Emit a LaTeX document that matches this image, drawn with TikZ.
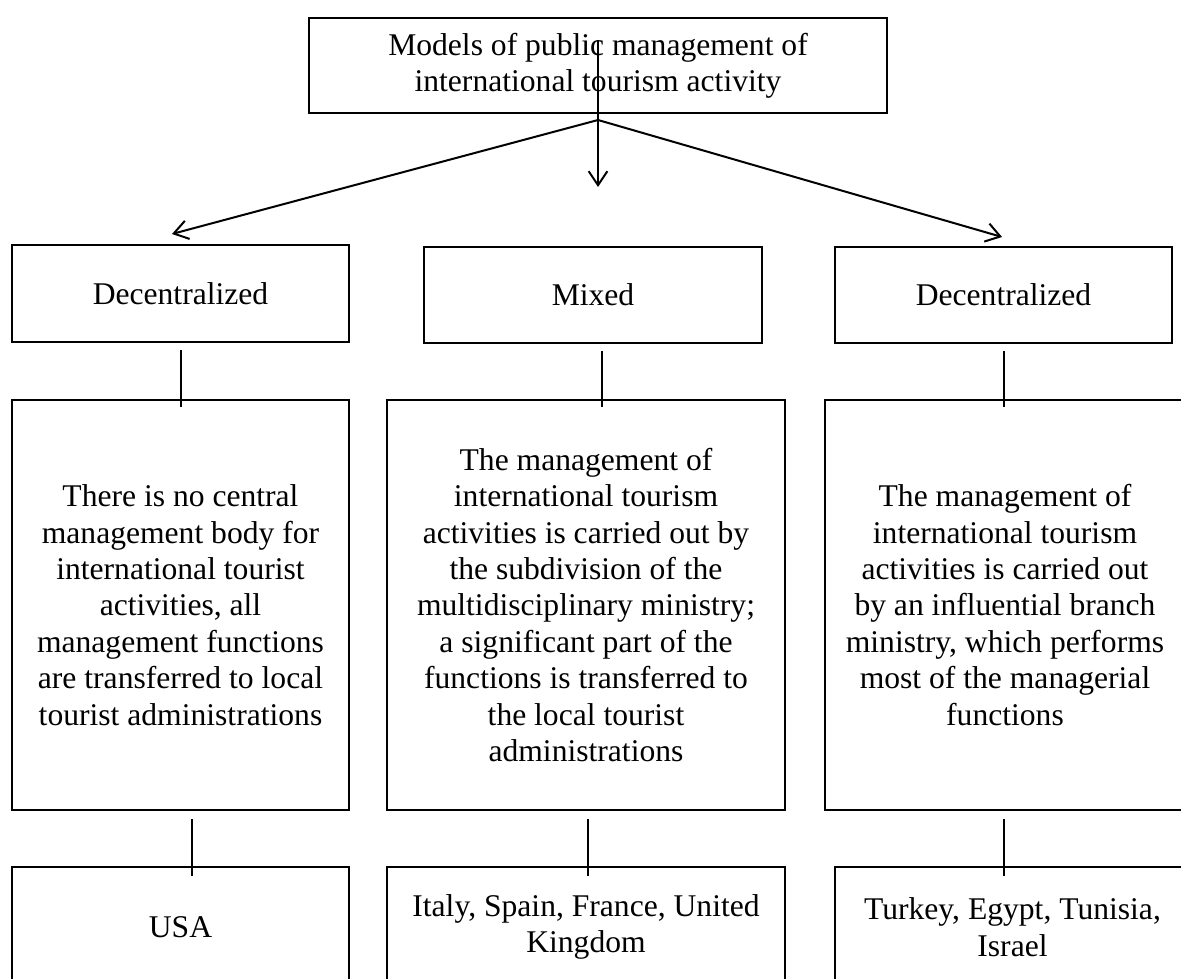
\documentclass[tikz,border=0pt]{standalone}
\usepackage{fontspec}
\setmainfont{Liberation Serif}
\usetikzlibrary{arrows.meta}

\begin{document}
\begin{tikzpicture}[x=0.75pt,y=0.75pt,yscale=-1,xscale=1,
  box/.style={draw,line width=1.5pt,inner sep=0pt,align=center,
    font=\fontsize{23.7}{27.3}\selectfont},
  link/.style={line width=1.5pt},
  arr/.style={line width=1.5pt,-{Straight Barb[length=10.5pt,width=14pt,line width=1.5pt]}}]
\useasboundingbox (0,0) rectangle (1181,978);
\clip (0,0) rectangle (1181,978);

%Shape: Rectangle
\node[box,minimum width=433.5pt,minimum height=71.25pt] (top) at (598,65.5) {Models of public management of\\international tourism activity};

%Shape: Rectangle
\node[box,minimum width=252.75pt,minimum height=72.75pt] (dl) at (180.5,293.5) {Decentralized};
\node[box,minimum width=253.5pt,minimum height=72pt] (mx) at (593,295) {Mixed};
\node[box,minimum width=252.75pt,minimum height=72pt] (dr) at (1003.5,295) {Decentralized};

%Shape: Rectangle
\node[box,minimum width=252.75pt,minimum height=307.5pt] (tl) at (180.5,605) {There is no central\\management body for\\international tourist\\activities, all\\management functions\\are transferred to local\\tourist administrations};
\node[box,minimum width=298.5pt,minimum height=307.5pt] (tm) at (586,605) {The management of\\international tourism\\activities is carried out by\\the subdivision of the\\multidisciplinary ministry;\\a significant part of the\\functions is transferred to\\the local tourist\\administrations};
\node[box,minimum width=270pt,minimum height=307.5pt] (tr) at (1005,605) {The management of\\international tourism\\activities is carried out\\by an influential branch\\ministry, which performs\\most of the managerial\\functions};

%Shape: Rectangle
\node[box,minimum width=252.75pt,minimum height=90pt] (bl) at (180.5,927) {USA};
\node[box,minimum width=298.5pt,minimum height=90pt] (bm) at (586,927) {Italy, Spain, France, United\\Kingdom};
\node[box,minimum width=266.25pt,minimum height=90pt] (br) at (1012.5,927) {Turkey, Egypt, Tunisia,\\Israel};

%Straight Lines with arrows
\coordinate (stem) at (598,40);
\coordinate (fork) at (598,120);
\coordinate (mid) at (598,187);
\draw[arr] (stem) -- (mid);
\draw[arr] (fork) -- ([xshift=-6.4pt,yshift=-7.5pt]dl.north);
\draw[arr] (fork) -- ([xshift=-1.1pt,yshift=-6.75pt]dr.north);

%Straight Lines
\coordinate (ul) at (181,0);
\coordinate (um) at (602,0);
\coordinate (ur) at (1004,0);
\draw[link,shorten <=5.25pt,shorten >=-6pt] (dl.south -| ul) -- (tl.north -| ul);
\draw[link,shorten <=5.25pt,shorten >=-6pt] (mx.south -| um) -- (tm.north -| um);
\draw[link,shorten <=5.25pt,shorten >=-6pt] (dr.south -| ur) -- (tr.north -| ur);

%Straight Lines
\coordinate (ll) at (192,0);
\coordinate (lm) at (588,0);
\coordinate (lr) at (1004,0);
\draw[link,shorten <=6pt,shorten >=-7.5pt] (tl.south -| ll) -- (bl.north -| ll);
\draw[link,shorten <=6pt,shorten >=-7.5pt] (tm.south -| lm) -- (bm.north -| lm);
\draw[link,shorten <=6pt,shorten >=-7.5pt] (tr.south -| lr) -- (br.north -| lr);

\end{tikzpicture}
\end{document}
